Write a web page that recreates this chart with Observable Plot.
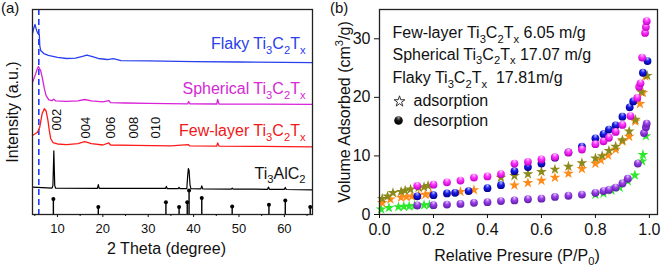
<!DOCTYPE html>
<html><head><meta charset="utf-8">
<script src="https://cdn.jsdelivr.net/npm/d3@7"></script>
<script src="https://cdn.jsdelivr.net/npm/@observablehq/plot@0.6"></script>
<style>
html,body{margin:0;padding:0;background:#fff;}
#wrap{position:relative;width:661px;height:266px;overflow:hidden;font-family:"Liberation Sans",Arial,sans-serif;color:#111;}
#wrap svg{position:absolute;top:0;}
.tag{position:absolute;font-size:15px;line-height:1;top:0px;}
</style></head><body>
<div id="wrap"><div class="tag" style="left:1px">(a)</div><div class="tag" style="left:330px">(b)</div></div>
<script>
// ---------- Panel (a): XRD patterns, [2theta, intensity (a.u., offset)] ----------
const flakyXRD = [[4.5,88.3],[4.8,91.0],[5.05,92.7],[5.4,89.8],[5.7,88.3],[6.0,87.8],[6.1,82.4],[6.3,80.0],[7.0,78.5],[8.0,77.6],[9.0,77.1],[10,76.6],[12,76.1],[14,76.3],[15.5,77.1],[16.5,77.8],[17.5,77.1],[19,76.1],[21,75.6],[22.3,76.0],[24,75.1],[30,74.9],[40,74.6],[50,74.4],[66.2,74.1]];
const sphericalXRD = [[4.5,64.4],[5.2,68.6],[5.5,70.7],[5.8,72.2],[6.3,70.2],[6.7,66.3],[7.1,61.5],[7.5,58.0],[8.1,55.9],[8.8,55.5],[9.2,56.3],[9.6,55.4],[12,55.2],[14.5,55.4],[16,56.1],[17.5,55.4],[20,54.9],[21.3,55.6],[21.7,54.6],[25,54.4],[30,54.2],[38.7,54.0],[38.9,55.1],[39.2,54.0],[45.1,53.9],[45.3,56.1],[45.6,53.9],[55,53.8],[66.2,53.7]];
const fewLayerXRD = [[4.5,38.5],[5.6,40.1],[6.1,42.6],[6.6,49.0],[7.1,51.6],[7.5,50.5],[7.9,45.9],[8.2,41.0],[8.5,37.1],[9.0,35.1],[10,34.4],[12,34.1],[14.5,34.6],[16,35.5],[17.5,34.6],[20,33.9],[21.3,34.9],[21.7,33.9],[27,33.7],[35,33.5],[38.8,34.1],[39.1,33.5],[45.1,33.4],[45.3,34.9],[45.6,33.4],[55,33.2],[66.2,33.0]];
const ti3alc2XRD = [[4.5,13.4],[8.8,12.9],[9.0,14.1],[9.2,31.0],[9.4,14.1],[9.6,12.8],[18.8,12.7],[19.0,14.6],[19.2,12.7],[33.8,12.7],[34.0,13.7],[34.2,12.6],[36.6,12.6],[36.8,13.2],[37.0,12.6],[38.5,12.6],[38.7,19.0],[38.85,22.4],[39.0,21.5],[39.2,14.6],[39.4,12.6],[41.6,12.5],[41.8,14.0],[42.0,12.5],[48.3,12.4],[48.5,12.9],[48.7,12.4],[56.3,12.3],[56.5,13.4],[56.7,12.3],[60.0,12.3],[60.2,13.2],[60.4,12.2],[66.2,12.0]];
const refSticks = [[9.1,7.6],[19.0,3.6],[33.9,6.0],[36.8,3.6],[38.6,6.0],[39.0,11.7],[41.8,8.0],[48.5,3.9],[56.6,4.7],[60.2,6.8],[65.7,3.6]];
const dashedRef = [5.89];
const curveLabelText = ["Flaky Ti_3C_2T_x", "Spherical Ti_3C_2T_x", "Few-layer Ti_3C_2T_x", "Ti_3AlC_2"];
const curveLabelY = [83.2, 61.2, 40.7, 20.0];
const curveColors = ["#2a40e8", "#d42ad4", "#f01818", "#111111"];
const hklText = ["002", "004", "006", "008", "010"];
const hklTheta = [9.8, 16.3, 21.7, 26.8, 31.6];
const hklY = [41.0, 37.1, 37.1, 37.1, 37.1];
const thetaTicks = [10, 20, 30, 40, 50, 60];
const thetaMinor = [5, 15, 25, 35, 45, 55, 65];

// ---------- Panel (b): N2 isotherms, [P/P0, volume cm3/g] ----------
const fewAds = [[0.006,0.9],[0.035,1.15],[0.07,1.3],[0.09,1.35],[0.11,1.4],[0.13,1.5],[0.165,1.6],[0.185,1.6],[0.8,3.4],[0.83,3.6],[0.86,4.1],[0.89,4.6],[0.92,5.7],[0.946,6.7],[0.973,9.1],[0.976,10.2],[0.987,13.4]];
const fewDes = [[0.14,1.55],[0.2,1.6],[0.25,1.7],[0.3,1.8],[0.35,2.0],[0.4,2.1],[0.45,2.3],[0.5,2.4],[0.55,2.6],[0.6,2.7],[0.65,3.0],[0.7,3.2],[0.75,3.4],[0.8,3.7],[0.83,4.0],[0.85,4.2],[0.875,4.6],[0.9,5.3],[0.92,6.1],[0.957,8.7],[0.98,13.9],[0.987,14.9],[0.99,15.5]];
const flakyAds = [[0.01,2.0],[0.04,2.6],[0.08,2.9],[0.1,3.0],[0.12,3.1],[0.145,3.3],[0.17,3.4],[0.19,3.5],[0.3,3.9],[0.35,4.2],[0.5,5.0],[0.55,5.4],[0.6,5.8],[0.65,6.3],[0.7,7.0],[0.75,7.8],[0.8,8.7],[0.82,9.3],[0.847,10.1],[0.875,11.1],[0.9,12.5],[0.925,13.3],[0.948,15.9],[0.965,18.9],[0.976,20.8],[0.985,23.6]];
const flakyDes = [[0.14,3.1],[0.2,3.3],[0.25,3.6],[0.28,3.7],[0.33,4.0],[0.4,4.5],[0.45,5.0],[0.5,7.4],[0.55,8.1],[0.6,8.7],[0.65,9.7],[0.7,10.6],[0.75,11.6],[0.8,13.0],[0.83,13.7],[0.85,14.5],[0.875,15.2],[0.9,16.7],[0.927,18.3],[0.94,19.3],[0.976,24.2],[0.993,26.2]];
const sphAds = [[0.01,2.7],[0.03,3.1],[0.05,3.7],[0.08,3.9],[0.095,4.1],[0.115,4.3],[0.145,4.6],[0.165,4.7],[0.18,4.9],[0.45,6.3],[0.5,6.6],[0.55,6.9],[0.6,7.3],[0.65,7.7],[0.7,8.2],[0.75,8.8],[0.8,9.6],[0.825,10.0],[0.85,10.9],[0.875,11.6],[0.9,12.7],[0.925,14.2],[0.948,16.2],[0.97,20.9],[0.992,23.7]];
const sphDes = [[0.14,4.9],[0.2,5.1],[0.25,5.5],[0.3,5.8],[0.35,6.3],[0.4,6.5],[0.45,6.9],[0.5,8.7],[0.55,9.0],[0.6,9.4],[0.65,9.8],[0.7,10.6],[0.75,11.1],[0.8,12.0],[0.83,12.5],[0.85,13.1],[0.875,14.1],[0.9,15.3],[0.93,16.8],[0.955,19.9],[0.962,21.8],[0.967,22.4],[0.973,26.8],[0.984,31.0],[0.987,32.0],[0.99,33.0]];
const pTicks = [0, 0.2, 0.4, 0.6, 0.8, 1.0];
const vTicks = [0, 10, 20, 30];
const legendLines = ["Few-layer Ti_3C_2T_x 6.05 m/g", "Spherical Ti_3C_2T_x 17.07 m/g", "Flaky Ti_3C_2T_x\u00a0 17.81m/g"];
const legendSymbols = ["adsorption", "desorption"];
const sphereGrads = [["gPurple","#e6ccff","#9b3fe8","#5e1aa8"],["gBlue","#b8c0ff","#1a1ae6","#00008c"],["gMag","#ffd6ff","#ff33ff","#c000c0"],["gBlack","#9a9a9a","#151515","#000000"]];

const FONT = '"Liberation Sans", Arial, sans-serif';
const X = d => d[0], Y = d => d[1];

const pa = Plot.plot({
  width: 330, height: 266,
  marginLeft: 32, marginRight: 18, marginTop: 9, marginBottom: 52,
  style: {fontFamily: FONT, background: "transparent", overflow: "visible", color: "#111"},
  x: {domain: [4.5, 66.2], label: null},
  y: {domain: [0, 100], axis: null, label: null},
  marks: [
    Plot.ruleX(dashedRef, {x: d => d, stroke: "#1f3bff", strokeWidth: 1.6, strokeDasharray: "6,4"}),
    Plot.line(flakyXRD, {x: X, y: Y, stroke: "#2a40ee", strokeWidth: 1.3}),
    Plot.line(sphericalXRD, {x: X, y: Y, stroke: "#d823d8", strokeWidth: 1.3}),
    Plot.line(fewLayerXRD, {x: X, y: Y, stroke: "#ff1a1a", strokeWidth: 1.3}),
    Plot.line(ti3alc2XRD, {x: X, y: Y, stroke: "#000", strokeWidth: 1.2}),
    Plot.ruleX(refSticks, {x: X, y1: 0, y2: Y, stroke: "#000", strokeWidth: 1.4}),
    Plot.dot(refSticks, {x: X, y: Y, r: 2, fill: "#000"}),
    ...curveLabelText.map((t, i) => Plot.text([t], {frameAnchor: "right", y: () => curveLabelY[i], text: d => d, dx: -7, fontSize: 16, fill: curveColors[i]})),
    Plot.text(hklText, {x: (d, i) => hklTheta[i], y: (d, i) => hklY[i], text: d => d, rotate: -90, textAnchor: "start", fontSize: 13, fill: "#111"}),
    Plot.frame({stroke: "#222", strokeWidth: 1.3}),
    Plot.axisX(thetaTicks, {tickSize: 3, tickPadding: 6, fontSize: 13, label: null}),
    Plot.axisX(thetaMinor, {tickSize: 2, tickFormat: () => "", label: null}),
    Plot.text(["2 Theta (degree)"], {frameAnchor: "bottom", lineAnchor: "middle", textAnchor: "middle", dx: -6, dy: 34, fontSize: 16}),
    Plot.text(["Intensity (a.u.)"], {frameAnchor: "left", lineAnchor: "middle", textAnchor: "middle", rotate: -90, dx: -20, fontSize: 16})
  ]
});

function gradDefs() {
  const ns = "http://www.w3.org/2000/svg";
  const defs = document.createElementNS(ns, "defs");
  for (const [id, light, mid, dark] of sphereGrads) {
    const g = document.createElementNS(ns, "radialGradient");
    g.setAttribute("id", id); g.setAttribute("cx", "0.5"); g.setAttribute("cy", "0.35");
    g.setAttribute("r", "0.65"); g.setAttribute("fx", "0.5"); g.setAttribute("fy", "0.15");
    [[0, light], [0.45, mid], [1, dark]].forEach(([o, c]) => {
      const s = document.createElementNS(ns, "stop");
      s.setAttribute("offset", o); s.setAttribute("stop-color", c); g.appendChild(s);
    });
    defs.appendChild(g);
  }
  return defs;
}

const pb = Plot.plot({
  width: 331, height: 266,
  marginLeft: 49, marginRight: 4, marginTop: 9, marginBottom: 52,
  style: {fontFamily: FONT, background: "transparent", overflow: "visible", color: "#111"},
  x: {domain: [0, 1.03], label: null},
  y: {domain: [0, 35], label: null},
  marks: [
    gradDefs,
    Plot.dot(fewAds, {x: X, y: Y, symbol: "star", r: 3.4, fill: "#2ee82e"}),
    Plot.dot(flakyAds, {x: X, y: Y, symbol: "star", r: 3.4, fill: "#ff8c1a"}),
    Plot.dot(sphAds, {x: X, y: Y, symbol: "star", r: 3.4, fill: "#8c8a1c"}),
    Plot.dot(fewDes, {x: X, y: Y, r: 3.9, fill: "url(#gPurple)"}),
    Plot.dot(flakyDes, {x: X, y: Y, r: 3.9, fill: "url(#gBlue)"}),
    Plot.dot(sphDes, {x: X, y: Y, r: 3.9, fill: "url(#gMag)"}),
    ...legendLines.map((t, i) => Plot.text([t], {frameAnchor: "top-left", lineAnchor: "middle", text: d => d, dx: 13, dy: [23.5, 45, 68.5][i], fontSize: 16})),
    ...legendSymbols.map((t, i) => Plot.text([t], {frameAnchor: "top-left", lineAnchor: "middle", text: d => d, dx: 34, dy: [91, 111][i], fontSize: 16})),
    Plot.dot([legendSymbols[0]], {frameAnchor: "top-left", dx: 20, dy: 92, symbol: "star", r: 3.4, fill: "none", stroke: "#333", strokeWidth: 1}),
    Plot.dot([legendSymbols[1]], {frameAnchor: "top-left", dx: 19, dy: 111, r: 4.3, fill: "url(#gBlack)"}),
    Plot.frame({stroke: "#222", strokeWidth: 1.3}),
    Plot.axisX(pTicks, {tickSize: 4, tickPadding: 5, fontSize: 16, tickFormat: d3.format(".1f"), label: null}),
    Plot.axisY(vTicks, {tickSize: 5, tickPadding: 4, fontSize: 16, label: null}),
    Plot.text(["Relative Presure (P/P_0)"], {frameAnchor: "bottom", lineAnchor: "middle", textAnchor: "middle", dx: -1.5, dy: 41, fontSize: 16}),
    Plot.text(["Volume Adsorbed (cm^3/g)"], {frameAnchor: "left", lineAnchor: "middle", textAnchor: "middle", rotate: -90, dx: -35, fontSize: 16})
  ]
});

const wrap = document.getElementById("wrap");
pa.style.left = "0px"; pb.style.left = "330px";
wrap.appendChild(pa); wrap.appendChild(pb);

function richText(root) {
  const ns = "http://www.w3.org/2000/svg";
  root.querySelectorAll("text").forEach(t => {
    if (t.querySelector("tspan")) return;
    const s = t.textContent;
    if (!/[_^]/.test(s)) return;
    const fs = parseFloat(getComputedStyle(t).fontSize) || 12;
    t.textContent = "";
    let shift = 0, buf = "", i = 0;
    const flush = () => {
      if (!buf) return;
      const sp = document.createElementNS(ns, "tspan");
      if (shift) { sp.setAttribute("dy", -shift); shift = 0; }
      sp.textContent = buf; t.appendChild(sp); buf = "";
    };
    while (i < s.length) {
      const c = s[i];
      if ((c === "_" || c === "^") && i + 1 < s.length) {
        flush();
        const d = c === "_" ? 0.28 * fs : -0.4 * fs;
        const sp = document.createElementNS(ns, "tspan");
        sp.setAttribute("dy", d - shift); shift = d;
        sp.setAttribute("font-size", 0.7 * fs);
        sp.textContent = s[i + 1]; t.appendChild(sp);
        i += 2;
      } else { buf += c; i++; }
    }
    flush();
  });
}
richText(pa); richText(pb);
</script></body></html>
